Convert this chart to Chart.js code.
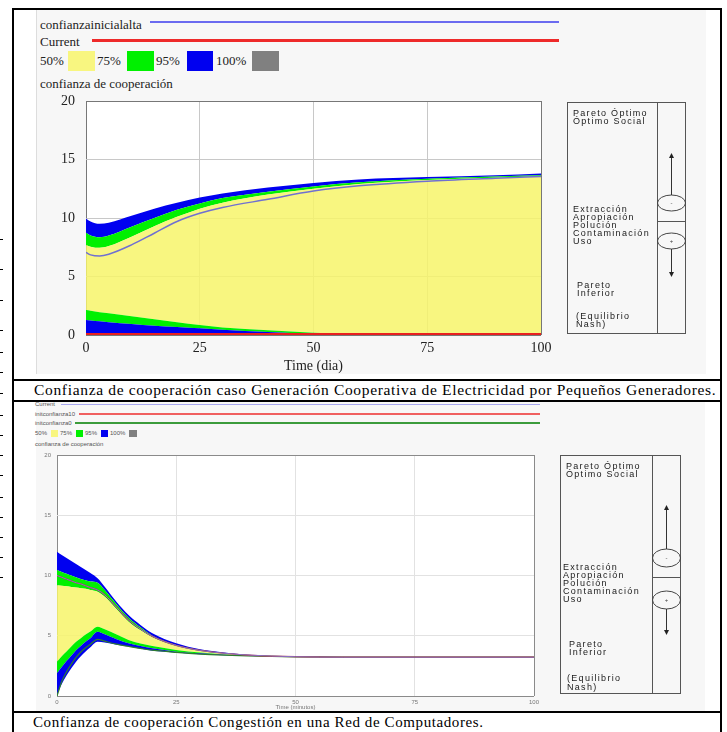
<!DOCTYPE html>
<html>
<head>
<meta charset="utf-8">
<script src="https://cdn.jsdelivr.net/npm/chart.js@4.4.1/dist/chart.umd.min.js"></script>
<style>
html, body { margin: 0; padding: 0; background: #fff; width: 727px; height: 732px; overflow: hidden; }
.abs { position: absolute; }
.panel { position: absolute; background: #f7f7f7; }
.lg { position: absolute; white-space: nowrap; }
.lg1 { font-family: "Liberation Serif", serif; font-size: 13px; line-height: 13px; color: #222; }
.lg2 { font-family: "Liberation Sans", Arial, sans-serif; font-size: 6px; line-height: 6px; color: #555; }
.sw { position: absolute; }
.side { position: absolute; white-space: nowrap; font-family: "Liberation Sans", Arial, sans-serif;
        font-size: 9px; line-height: 9px; letter-spacing: 1.3px; color: #1a1a1a; }
.cap { position: absolute; white-space: nowrap; font-family: "Liberation Serif", serif; color: #000; line-height: 18px; }
</style>
</head>
<body>

<div class="panel" style="left:36px;top:10px;width:669px;height:364px;border-left:1px solid #ddd;"></div>
<div class="panel" style="left:36px;top:401px;width:669px;height:310px;"></div>

<!-- leyenda grafico 1 -->
<div class="lg lg1" style="left:40px;top:18px;">confianzainicialalta</div>
<div class="sw" style="left:150px;top:21px;width:409px;height:2px;background:#6b6bf0;"></div>
<div class="lg lg1" style="left:40px;top:35px;">Current</div>
<div class="sw" style="left:92px;top:39px;width:467px;height:3px;background:#ee2a2a;"></div>
<div class="lg lg1" style="left:40px;top:54px;">50%</div>
<div class="sw" style="left:68px;top:51px;width:27px;height:20px;background:#f8f680;"></div>
<div class="lg lg1" style="left:97px;top:54px;">75%</div>
<div class="sw" style="left:127px;top:51px;width:27px;height:20px;background:#00f000;"></div>
<div class="lg lg1" style="left:156px;top:54px;">95%</div>
<div class="sw" style="left:187px;top:51px;width:26px;height:20px;background:#0000f0;"></div>
<div class="lg lg1" style="left:216px;top:54px;">100%</div>
<div class="sw" style="left:252px;top:51px;width:27px;height:20px;background:#808080;"></div>
<div class="lg lg1" style="left:40px;top:77px;">confianza de cooperación</div>

<canvas id="c1" class="abs" width="524" height="285" style="left:36px;top:90px;"></canvas>

<!-- leyenda grafico 2 -->
<div class="lg lg2" style="left:35px;top:401px;">Current</div>
<div class="sw" style="left:61px;top:404px;width:479px;height:1px;background:#a8a8f0;"></div>
<div class="lg lg2" style="left:35px;top:411px;">initconfianza10</div>
<div class="sw" style="left:79px;top:413px;width:461px;height:2px;background:#f06060;"></div>
<div class="lg lg2" style="left:35px;top:420px;">initconfianza0</div>
<div class="sw" style="left:75px;top:422px;width:465px;height:2px;background:#3c9c3c;"></div>
<div class="lg lg2" style="left:35px;top:430px;">50%</div>
<div class="sw" style="left:51px;top:430px;width:7px;height:7px;background:#f8f680;"></div>
<div class="lg lg2" style="left:60px;top:430px;">75%</div>
<div class="sw" style="left:76px;top:430px;width:7px;height:7px;background:#00f000;"></div>
<div class="lg lg2" style="left:85px;top:430px;">95%</div>
<div class="sw" style="left:101px;top:430px;width:7px;height:7px;background:#0000f0;"></div>
<div class="lg lg2" style="left:110px;top:430px;">100%</div>
<div class="sw" style="left:129px;top:430px;width:8px;height:7px;background:#808080;"></div>
<div class="lg lg2" style="left:35px;top:441px;">confianza de cooperación</div>

<canvas id="c2" class="abs" width="510" height="264" style="left:36px;top:447px;"></canvas>

<div class="cap" style="left:34px;top:381px;font-size:15.5px;letter-spacing:0.67px;">Confianza de cooperación caso Generación Cooperativa de Electricidad por Pequeños Generadores.</div>
<div class="cap" style="left:33px;top:713px;font-size:15px;letter-spacing:0.6px;">Confianza de cooperación Congestión en una Red de Computadores.</div>

<svg id="lineas" class="abs" style="left:0;top:0;" width="727" height="732"></svg>
<div id="textos"></div>

<script>
// ---------- grafico 1: Generacion cooperativa de electricidad (Time en dias)
const dias = [0, 1, 3, 5, 10, 15, 20, 25, 30, 40, 50, 60, 75, 90, 100];
const inf95Dia = [0.03, 0.03, 0.03, 0.03, 0.03, 0.03, 0.03, 0.03, 0.03, 0.03, 0.03, 0.03, 0.02, 0.02, 0.02];
const inf75Dia = [1.28, 1.25, 1.18, 1.1, 0.95, 0.8, 0.68, 0.57, 0.45, 0.25, 0.1, 0.04, 0.02, 0.02, 0.02];
const inf50Dia = [2.13, 2.08, 1.95, 1.85, 1.6, 1.35, 1.1, 0.85, 0.65, 0.4, 0.2, 0.1, 0.03, 0.02, 0.02];
const sup50Dia = [7.7, 7.55, 7.45, 7.6, 8.4, 9.3, 10.1, 10.8, 11.3, 12.0, 12.5, 12.9, 13.25, 13.45, 13.57];
const sup75Dia = [8.73, 8.5, 8.35, 8.5, 9.25, 10.0, 10.7, 11.24, 11.7, 12.25, 12.7, 13.05, 13.35, 13.55, 13.65];
const sup95Dia = [9.96, 9.7, 9.5, 9.6, 10.2, 10.8, 11.3, 11.75, 12.1, 12.6, 13.0, 13.3, 13.5, 13.65, 13.8];
const altaDia = [7.05, 6.85, 6.75, 6.9, 7.7, 8.7, 9.7, 10.4, 10.9, 11.6, 12.3, 12.75, 13.15, 13.4, 13.55];
const currentDia = [0.08, 0.08, 0.08, 0.08, 0.08, 0.08, 0.08, 0.08, 0.08, 0.08, 0.08, 0.08, 0.08, 0.08, 0.08];

// ---------- grafico 2: Congestion en una red de computadores (Time en minutos)
const minutos = [0, 1, 2, 3, 4, 5, 6, 7, 8.5, 10, 12.5, 15, 17.5, 20, 25, 30, 35, 40, 50, 60, 75, 100];
const inf95Min = [0.1, 1.0, 1.7, 2.3, 2.85, 3.3, 3.7, 4.05, 4.5, 4.43, 4.25, 4.1, 3.92, 3.76, 3.6, 3.46, 3.38, 3.32, 3.25, 3.22, 3.22, 3.22];
const inf75Min = [1.88, 2.4, 2.9, 3.35, 3.8, 4.15, 4.5, 4.8, 5.34, 5.12, 4.7, 4.37, 4.15, 3.96, 3.68, 3.54, 3.42, 3.34, 3.25, 3.22, 3.22, 3.22];
const inf50Min = [2.85, 3.3, 3.7, 4.1, 4.5, 4.8, 5.1, 5.35, 5.75, 5.53, 5.1, 4.65, 4.35, 4.15, 3.82, 3.6, 3.45, 3.35, 3.25, 3.22, 3.22, 3.22];
const sup50Min = [9.2, 9.15, 9.1, 9.05, 9.0, 8.95, 8.9, 8.8, 8.66, 8.24, 7.2, 6.17, 5.45, 4.87, 4.15, 3.73, 3.52, 3.38, 3.25, 3.22, 3.22, 3.22];
const sup75Min = [10.46, 10.3, 10.15, 10.0, 9.85, 9.7, 9.6, 9.5, 9.4, 8.8, 7.6, 6.5, 5.7, 5.0, 4.23, 3.8, 3.55, 3.4, 3.26, 3.23, 3.22, 3.22];
const sup95Min = [11.98, 11.7, 11.45, 11.2, 10.95, 10.7, 10.45, 10.2, 9.77, 9.07, 7.8, 6.72, 5.9, 5.2, 4.37, 3.87, 3.6, 3.42, 3.27, 3.23, 3.22, 3.22];
const conf10Min = [10.0, 9.85, 9.7, 9.55, 9.4, 9.3, 9.15, 9.0, 8.8, 8.4, 7.35, 6.3, 5.55, 4.95, 4.2, 3.78, 3.55, 3.4, 3.26, 3.22, 3.22, 3.22];
const conf0Min = [0.0, 1.2, 2.0, 2.65, 3.2, 3.65, 4.0, 4.3, 4.7, 4.55, 4.3, 4.12, 3.95, 3.8, 3.62, 3.48, 3.39, 3.33, 3.25, 3.22, 3.22, 3.22];
const currentMin = [10.0, 9.85, 9.7, 9.55, 9.4, 9.3, 9.15, 9.0, 8.8, 8.4, 7.35, 6.3, 5.55, 4.95, 4.2, 3.78, 3.55, 3.4, 3.26, 3.22, 3.22, 3.22];

const ticksX = [0, 25, 50, 75, 100];
const ticksY = [0, 5, 10, 15, 20];

const AMARILLO = "rgba(247, 244, 106, 0.85)";
const VERDE = "#00f000";
const AZUL = "#0000f0";

let pts = (xs, ys) => xs.map((x, i) => ({ x, y: ys[i] }));

// bandas debajo (order alto), lineas encima (order bajo)
function banda(xs, ys, color) {
    return {
        data: pts(xs, ys),
        fill: color ? "-1" : false,
        backgroundColor: color || "transparent",
        borderWidth: 0,
        pointRadius: 0,
        order: 10
    };
}

function linea(xs, ys, color, ancho, orden) {
    return { data: pts(xs, ys), fill: false, borderColor: color, borderWidth: ancho, pointRadius: 0, order: orden };
}

const fondoBlanco = {
    id: "fondoBlanco",
    beforeDraw(chart) {
        const { ctx, chartArea: a } = chart;
        ctx.save();
        ctx.fillStyle = "#fff";
        ctx.fillRect(a.left, a.top, a.right - a.left, a.bottom - a.top);
        ctx.restore();
    }
};

function escala(min, max, s) {
    return {
        type: "linear",
        min, max,
        afterBuildTicks: sc => { sc.ticks = (sc.axis === "x" ? ticksX : ticksY).map(v => ({ value: v })); },
        afterFit: sc => {
            if (sc.axis === "x") sc.height = s.alto;
            else { sc.width = s.ancho; sc.paddingTop = 0; sc.paddingBottom = 0; }
        },
        border: { display: false },
        grid: {
            drawTicks: false,
            lineWidth: 1,
            color: c => (c.tick && (c.tick.value === min || c.tick.value === max)) ? s.borde : s.rejilla
        },
        ticks: { padding: s.pad, color: s.texto, font: s.fuente },
        title: s.titulo ? { display: true, text: s.titulo, color: s.texto, font: s.fuente, padding: 0 } : { display: false }
    };
}

function grafico(id, xs, bandas, lineas, opc) {
    new Chart(document.getElementById(id).getContext("2d"), {
        type: "line",
        data: {
            datasets: [
                banda(xs, bandas[0]),
                banda(xs, bandas[1], AZUL),
                banda(xs, bandas[2], VERDE),
                banda(xs, bandas[3], AMARILLO),
                banda(xs, bandas[4], VERDE),
                banda(xs, bandas[5], AZUL),
                ...lineas
            ]
        },
        options: {
            responsive: false,
            animation: false,
            elements: { line: { cubicInterpolationMode: "monotone" } },
            layout: { padding: opc.padding },
            plugins: { legend: { display: false }, tooltip: { enabled: false } },
            scales: {
                x: escala(0, 100, { alto: opc.altoX, pad: opc.padX, texto: opc.texto, fuente: opc.fuente, borde: opc.borde, rejilla: opc.rejilla, titulo: opc.titulo }),
                y: escala(0, 20, { ancho: opc.anchoY, pad: opc.padY, texto: opc.texto, fuente: opc.fuente, borde: opc.borde, rejilla: opc.rejilla })
            }
        },
        plugins: [fondoBlanco]
    });
}

grafico("c1", dias,
    [inf95Dia, inf75Dia, inf50Dia, sup50Dia, sup75Dia, sup95Dia],
    [linea(dias, altaDia, "#7070d0", 1.5, 2), linea(dias, currentDia, "#e82020", 2, 1)],
    {
        padding: { top: 11, right: 19, left: 0, bottom: 0 },
        altoX: 40, anchoY: 50, padX: 5, padY: 11,
        texto: "#222", fuente: { family: "Liberation Serif", size: 14 },
        borde: "#777", rejilla: "#c8c8c8", titulo: "Time (dia)"
    });

grafico("c2", minutos,
    [inf95Min, inf75Min, inf50Min, sup50Min, sup75Min, sup95Min],
    [linea(minutos, conf0Min, "#2e7d2e", 1.2, 3), linea(minutos, conf10Min, "#b83030", 1.2, 2), linea(minutos, currentMin, "#8a70c8", 1, 1)],
    {
        padding: { top: 8, right: 12, left: 0, bottom: 0 },
        altoX: 15, anchoY: 21, padX: 3, padY: 6,
        texto: "#777", fuente: { family: "Liberation Sans", size: 6 },
        borde: "#8a8a8a", rejilla: "#e2e2e2", titulo: "Time (minutos)"
    });

// ---------- tabla, paneles laterales y marcas
const NS = "http://www.w3.org/2000/svg";
const svg = document.getElementById("lineas");
function el(tag, attrs) {
    let e = document.createElementNS(NS, tag);
    for (let k in attrs) e.setAttribute(k, attrs[k]);
    svg.appendChild(e);
    return e;
}

// bordes de la tabla
el("rect", { x: 13, y: 9, width: 708, height: 740, fill: "none", stroke: "#000", "stroke-width": 2 });
[380, 401, 712].forEach(y => el("line", { x1: 13, y1: y, x2: 721, y2: y, stroke: "#000", "stroke-width": 2 }));

// marcas sueltas del margen izquierdo
[239, 269, 300, 330, 352, 372, 393, 415, 435, 455, 475, 497, 517, 537, 557, 577].forEach(y =>
    el("line", { x1: 0, y1: y + 0.5, x2: 3, y2: y + 0.5, stroke: "#000", "stroke-width": 1 }));

const textosEje = [
    ["Pareto Óptimo", 0], ["Óptimo Social", 0],
    ["Extracción", 1], ["Apropiación", 1], ["Polución", 1], ["Contaminación", 1], ["Uso", 1],
    ["Pareto", 2], ["Inferior", 2],
    ["(Equilibrio", 3], ["Nash)", 3]
];

function panelLateral(g) {
    el("rect", { x: g.x0 + 0.5, y: g.y0 + 0.5, width: g.x1 - g.x0, height: g.y1 - g.y0, fill: "none", stroke: "#555", "stroke-width": 1 });
    el("line", { x1: g.xd + 0.5, y1: g.y0, x2: g.xd + 0.5, y2: g.y1, stroke: "#555" });
    el("line", { x1: g.xd, y1: g.yh + 0.5, x2: g.x1, y2: g.yh + 0.5, stroke: "#555" });
    const cx = (g.xd + g.x1) / 2 + 0.5;
    const rx = (g.x1 - g.xd) / 2;
    el("ellipse", { cx, cy: g.em, rx, ry: g.ry, fill: "none", stroke: "#444" });
    el("ellipse", { cx, cy: g.ep, rx, ry: g.ry, fill: "none", stroke: "#444" });
    el("line", { x1: cx, y1: g.em - g.ry, x2: cx, y2: g.fa + 4, stroke: "#333" });
    el("polygon", { points: `${cx - 2.5},${g.fa + 5} ${cx + 2.5},${g.fa + 5} ${cx},${g.fa}`, fill: "#222" });
    el("line", { x1: cx, y1: g.ep + g.ry, x2: cx, y2: g.fb - 4, stroke: "#333" });
    el("polygon", { points: `${cx - 2.5},${g.fb - 5} ${cx + 2.5},${g.fb - 5} ${cx},${g.fb}`, fill: "#222" });
    let t1 = el("text", { x: cx, y: g.em + 2, "text-anchor": "middle", "font-size": 6, "font-family": "Liberation Sans", fill: "#444" });
    t1.textContent = "-";
    let t2 = el("text", { x: cx, y: g.ep + 2, "text-anchor": "middle", "font-size": 6, "font-family": "Liberation Sans", fill: "#444" });
    t2.textContent = "+";

    const cont = document.getElementById("textos");
    textosEje.forEach(([txt, grupo], i) => {
        let d = document.createElement("div");
        d.className = "side";
        d.innerText = txt;
        d.style.left = g.tx[grupo] + "px";
        d.style.top = (g.ty[i] - 4.5) + "px";
        cont.appendChild(d);
    });
}

panelLateral({
    x0: 567, y0: 102, x1: 685, y1: 333, xd: 657, yh: 221,
    em: 203, ep: 241, ry: 8, fa: 153, fb: 277,
    tx: [573, 573, 577, 576],
    ty: [113, 121, 209, 217, 225, 233, 241, 285, 293, 316, 324]
});

panelLateral({
    x0: 560, y0: 455, x1: 680, y1: 693, xd: 652, yh: 577,
    em: 558, ep: 600, ry: 9, fa: 505, fb: 635,
    tx: [566, 563, 569, 567],
    ty: [466, 474, 567, 575, 583, 591, 599, 644, 652, 678, 687]
});
</script>
</body>
</html>
